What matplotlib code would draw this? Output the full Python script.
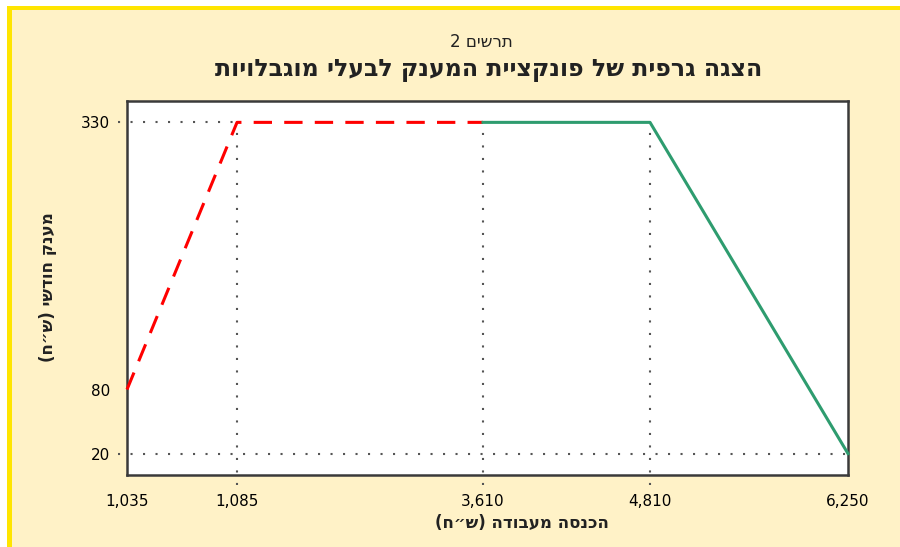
import numpy as np
import matplotlib
matplotlib.use('Agg')
import matplotlib.pyplot as plt
from matplotlib.patches import Rectangle

# נתונים
red_x = [1035, 1085, 3610]
red_y = [80, 330, 330]
green_x = [3610, 4810, 6250]
green_y = [330, 330, 20]
x_ticks = [1035, 1085, 3610, 4810, 6250]
y_ticks = [20, 80, 330]
x_guides = [1085, 3610, 4810]

subtitle = 'תרשים 2'
title = 'הצגה גרפית של פונקציית המענק לבעלי מוגבלויות'
xlabel = 'הכנסה מעבודה (ש״ח)'
ylabel = 'מענק חודשי (ש״ח)'


def vis(s):
    # matplotlib has no bidi: reverse to visual order, mirror parentheses
    r = s[::-1]
    return r.translate(str.maketrans('()', ')('))


plt.rcParams['font.family'] = ['DejaVu Sans']

fig = plt.figure(figsize=(9, 5.47), dpi=100)
fig.patch.set_facecolor('white')

# frame background and yellow border
fig.patches.append(Rectangle((7 / 900, 0), 1, 1 - 6 / 547, transform=fig.transFigure,
                             facecolor='#FFF2C7', edgecolor='none', zorder=-2))
fig.patches.append(Rectangle((7 / 900, 1 - 10 / 547), 1, 4 / 547, transform=fig.transFigure,
                             facecolor='#FFE500', edgecolor='none', zorder=-1))
fig.patches.append(Rectangle((7 / 900, 0), 5 / 900, 1 - 6 / 547, transform=fig.transFigure,
                             facecolor='#FFE500', edgecolor='none', zorder=-1))

ax = fig.add_axes([127 / 900, 1 - 475 / 547, 721 / 900, 374 / 547])
ax.set_facecolor('white')

# piecewise x scale (unevenly spaced ticks as in the original)
frac = [0.0, 0.1526, 0.4938, 0.7254, 1.0]
span = x_ticks[-1] - x_ticks[0]
fwd = lambda v: np.interp(v, x_ticks, frac) * span
inv = lambda v: np.interp(v / span, frac, x_ticks)
ax.set_xscale('function', functions=(fwd, inv))
ax.set_xlim(x_ticks[0], x_ticks[-1])
ax.set_ylim(0, 350)

dot = dict(color='#555555', linestyle=(0, (1, 5)), linewidth=1.5, clip_on=False, zorder=1)
to_ax = lambda x, y: ax.transAxes.inverted().transform(ax.transData.transform((x, y)))

x1085 = to_ax(1085, 330)[0]
ax.axhline(330, xmin=-0.012, xmax=x1085, **dot)
ax.axhline(20, xmin=-0.012, xmax=1, **dot)
for xv in x_guides:
    ax.axvline(xv, ymin=-0.028, ymax=to_ax(xv, 330)[1], **dot)

ax.plot(red_x, red_y, color='#FF0000', linewidth=2.2, dashes=(6, 4), zorder=3, clip_on=False)
ax.plot(green_x, green_y, color='#2E9C6F', linewidth=2.2, zorder=3, clip_on=False)

ax.set_xticks(x_ticks)
ax.set_xticklabels([f'{v:,}' for v in x_ticks])
ax.set_yticks(y_ticks)
ax.set_yticklabels([str(v) for v in y_ticks])
ax.minorticks_off()
ax.tick_params(axis='x', length=0, pad=14, labelsize=11)
ax.tick_params(axis='y', length=0, pad=12, labelsize=11)

for s in ax.spines.values():
    s.set_color('#3A3A3A')
    s.set_linewidth(1.8)

fig.text(0.535, 1 - 42 / 547, vis(subtitle), ha='center', va='center', fontsize=12, color='#222222')
fig.text(0.543, 1 - 70 / 547, vis(title), ha='center', va='center', fontsize=17,
         fontweight='bold', color='#222222')
fig.text(0.58, 1 - 523 / 547, vis(xlabel), ha='center', va='center', fontsize=12,
         fontweight='bold', color='#222222')
fig.text(48 / 900, 1 - 287 / 547, vis(ylabel), ha='center', va='center', fontsize=12,
         fontweight='bold', rotation=90, color='#222222')

fig.savefig('out.png', dpi=100, facecolor=fig.get_facecolor())
